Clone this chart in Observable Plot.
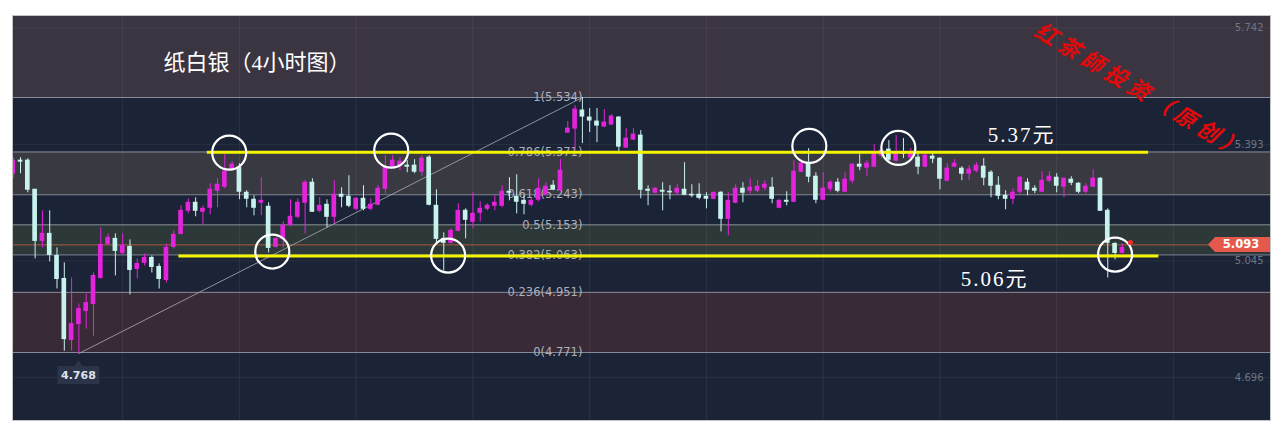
<!DOCTYPE html>
<html><head><meta charset="utf-8">
<script src="https://cdn.jsdelivr.net/npm/d3@7"></script>
<script src="https://cdn.jsdelivr.net/npm/@observablehq/plot@0.6"></script>
<style>
html,body{margin:0;padding:0;background:#ffffff;}
#chart{width:1280px;height:434px;}
</style></head><body><div id="chart"></div>
<script>
// ---- Candles (4-hour bars) ----
const opens = [5.306,5.345,5.345,5.258,5.105,5.126,5.060,4.991,4.808,4.856,4.895,4.916,4.994,5.096,5.111,5.069,5.087,5.021,5.039,5.054,5.027,4.988,5.087,5.126,5.195,5.219,5.192,5.204,5.255,5.267,5.318,5.324,5.249,5.228,5.219,5.207,5.087,5.111,5.153,5.177,5.219,5.279,5.195,5.213,5.177,5.243,5.237,5.201,5.231,5.201,5.213,5.261,5.327,5.330,5.330,5.330,5.312,5.354,5.210,5.111,5.099,5.135,5.195,5.162,5.189,5.201,5.210,5.210,5.252,5.237,5.225,5.213,5.228,5.243,5.270,5.258,5.429,5.441,5.495,5.474,5.462,5.447,5.453,5.474,5.384,5.408,5.420,5.258,5.249,5.255,5.252,5.249,5.258,5.243,5.243,5.237,5.231,5.249,5.171,5.219,5.261,5.255,5.255,5.264,5.264,5.204,5.225,5.222,5.312,5.336,5.297,5.228,5.261,5.279,5.252,5.285,5.333,5.324,5.327,5.360,5.378,5.345,5.369,5.354,5.354,5.327,5.357,5.351,5.285,5.327,5.321,5.306,5.315,5.327,5.309,5.270,5.240,5.231,5.252,5.279,5.261,5.252,5.285,5.294,5.267,5.288,5.276,5.252,5.267,5.291,5.195,5.096,5.069];
const highs = [5.354,5.354,5.351,5.258,5.195,5.195,5.084,5.039,4.994,4.916,4.946,5.009,5.144,5.126,5.126,5.126,5.108,5.051,5.066,5.060,5.036,5.096,5.135,5.210,5.231,5.234,5.210,5.276,5.291,5.363,5.342,5.336,5.255,5.240,5.294,5.219,5.114,5.162,5.228,5.231,5.285,5.291,5.234,5.228,5.285,5.264,5.300,5.234,5.270,5.231,5.270,5.360,5.360,5.354,5.345,5.348,5.360,5.360,5.258,5.129,5.141,5.216,5.201,5.249,5.222,5.216,5.240,5.270,5.294,5.303,5.240,5.231,5.291,5.279,5.285,5.348,5.462,5.510,5.534,5.501,5.501,5.498,5.483,5.477,5.441,5.441,5.435,5.270,5.264,5.279,5.270,5.273,5.339,5.273,5.276,5.249,5.250,5.252,5.249,5.273,5.279,5.291,5.285,5.285,5.294,5.228,5.252,5.345,5.345,5.381,5.309,5.309,5.285,5.291,5.309,5.336,5.363,5.345,5.393,5.381,5.405,5.420,5.411,5.381,5.366,5.369,5.366,5.354,5.336,5.348,5.327,5.330,5.339,5.351,5.315,5.297,5.255,5.261,5.297,5.291,5.270,5.312,5.312,5.306,5.294,5.297,5.279,5.276,5.318,5.294,5.201,5.099,5.096];
const lows = [5.291,5.306,5.249,5.051,5.084,5.042,4.961,4.775,4.775,4.768,4.841,4.820,4.991,5.090,5.000,5.063,4.943,4.991,5.030,5.009,4.961,4.979,5.081,5.123,5.186,5.177,5.153,5.183,5.204,5.261,5.315,5.228,5.204,5.180,5.180,5.069,5.084,5.084,5.147,5.171,5.126,5.190,5.189,5.144,5.156,5.204,5.204,5.195,5.195,5.195,5.210,5.246,5.321,5.315,5.309,5.306,5.297,5.210,5.099,5.015,5.096,5.132,5.111,5.141,5.162,5.195,5.195,5.204,5.225,5.186,5.183,5.207,5.222,5.240,5.255,5.252,5.426,5.375,5.396,5.429,5.399,5.444,5.450,5.369,5.381,5.405,5.231,5.210,5.246,5.195,5.228,5.240,5.240,5.234,5.228,5.201,5.228,5.132,5.120,5.216,5.219,5.246,5.249,5.255,5.216,5.201,5.210,5.219,5.309,5.279,5.216,5.225,5.252,5.249,5.249,5.276,5.315,5.297,5.324,5.351,5.339,5.342,5.351,5.351,5.303,5.324,5.336,5.258,5.282,5.324,5.285,5.285,5.309,5.270,5.234,5.228,5.198,5.213,5.246,5.240,5.246,5.249,5.279,5.249,5.234,5.270,5.246,5.246,5.264,5.193,4.994,5.048,5.066];
const closes = [5.345,5.342,5.258,5.105,5.126,5.063,4.991,4.811,4.856,4.901,4.919,5.000,5.093,5.114,5.075,5.090,5.018,5.036,5.054,5.027,4.991,5.084,5.123,5.195,5.219,5.195,5.201,5.258,5.273,5.312,5.333,5.252,5.231,5.204,5.225,5.084,5.111,5.150,5.177,5.219,5.279,5.192,5.210,5.177,5.243,5.237,5.210,5.231,5.201,5.213,5.261,5.324,5.345,5.342,5.327,5.312,5.351,5.213,5.111,5.099,5.135,5.195,5.168,5.186,5.201,5.210,5.219,5.252,5.249,5.222,5.216,5.225,5.261,5.267,5.258,5.315,5.441,5.498,5.477,5.465,5.450,5.459,5.477,5.387,5.411,5.423,5.258,5.255,5.261,5.252,5.250,5.261,5.243,5.241,5.234,5.231,5.249,5.171,5.225,5.261,5.249,5.264,5.267,5.273,5.231,5.225,5.222,5.312,5.336,5.297,5.228,5.261,5.279,5.255,5.288,5.333,5.327,5.336,5.363,5.375,5.348,5.366,5.366,5.366,5.327,5.360,5.351,5.291,5.321,5.336,5.306,5.318,5.330,5.294,5.270,5.240,5.231,5.249,5.294,5.258,5.255,5.285,5.297,5.270,5.291,5.279,5.252,5.267,5.291,5.195,5.099,5.069,5.084];

// ---- Fibonacci retracement ----
const fibRatios = [1, 0.786, 0.618, 0.5, 0.382, 0.236, 0];
const fibPrices = [5.534, 5.371, 5.243, 5.153, 5.063, 4.951, 4.771];
const bandColors = ["#3b3441", "#1b2336", "#393a41", "#1b2336", "#2d3838", "#1b2336", "#392a38", "#1b2336"];

// swing points the retracement is drawn between (bar number, price)
const swingLow = {bar: 10, price: 4.768};
const swingHigh = {bar: 79, price: 5.534};

// ---- Annotations ----
const levelPrices = [5.37, 5.06];
const levelLabels = ["5.37元", "5.06元"];
const levelFromBar = [27.6, 23.7];
const levelToBar = [156.6, 158];
const levelLabelBar = [139.2, 135.5];

const circleBars = [30.6, 52.8, 36.5, 60.6, 110.1, 122.3, 152.0];
const circlePrices = [5.369, 5.375, 5.073, 5.061, 5.389, 5.383, 5.064];

const axisTicks = [5.742, 5.393, 5.045, 4.696];
const gridBars = [16, 32, 48, 64, 80, 96, 112, 128, 144, 160];
const lastPrice = 5.093;

const title = "纸白银（4小时图）";
const watermark = "红茶師投资（原创）";

// ---- build tables ----
const candles = opens.map((o, k) => ({bar: k + 1, open: o, high: highs[k], low: lows[k], close: closes[k]}));
const yDomain = [4.5675, 5.7794];
const bandEdges = [yDomain[1], ...fibPrices, yDomain[0]];
const bands = bandColors.map((c, k) => ({hi: bandEdges[k], lo: bandEdges[k + 1], color: c}));
const fibs = fibRatios.map((r, k) => ({price: fibPrices[k], label: `${r}(${fibPrices[k].toFixed(3)})`}));
const levels = levelPrices.map((p, k) => ({price: p, label: levelLabels[k], from: levelFromBar[k], to: levelToBar[k], at: levelLabelBar[k]}));
const circles = circleBars.map((b, k) => ({bar: b, price: circlePrices[k]}));

const UP = "#e424dc", DOWN = "#c8f2ee";
const col = d => d.close >= d.open ? UP : DOWN;

const serif = "'Liberation Serif', 'Noto Sans CJK SC', serif";

const plot = Plot.plot({
  width: 1280, height: 434,
  marginLeft: 12, marginRight: 10, marginTop: 15, marginBottom: 14,
  x: {domain: [0.9, 173.3], axis: null},
  y: {domain: yDomain, axis: null},
  color: {type: "identity"},
  style: {background: "transparent", fontFamily: "'DejaVu Sans', sans-serif"},
  marks: [
    Plot.frame({fill: "#1b2336"}),
    Plot.rect(bands, {y1: "lo", y2: "hi", fill: "color"}),
    Plot.ruleX(gridBars, {stroke: "#ffffff", strokeOpacity: 0.07}),
    Plot.ruleY(axisTicks, {stroke: "#ffffff", strokeOpacity: 0.06}),
    Plot.ruleY(fibs, {y: "price", stroke: "#9a9ca8", strokeOpacity: 0.85}),
    Plot.ruleY([lastPrice], {stroke: "#b8603e", strokeOpacity: 0.9}),
    Plot.line([swingLow, swingHigh], {x: "bar", y: "price", stroke: "#a3a5b0", strokeWidth: 1, strokeOpacity: 0.85}),
    Plot.text(fibs, {x: () => swingHigh.bar, y: "price", text: "label", textAnchor: "end", lineAnchor: "middle", fill: "#aeb0ba", fontSize: 11.5}),
    Plot.ruleX(candles, {x: "bar", y1: "low", y2: "high", stroke: col, strokeWidth: 1, clip: true}),
    Plot.rect(candles, {x1: d => d.bar - 0.32, x2: d => d.bar + 0.32, y1: d => Math.min(d.open, d.close), y2: d => Math.max(d.open, d.close), fill: col, insetTop: -0.5, insetBottom: -0.5, clip: true}),
    Plot.ruleY(levels, {y: "price", x1: "from", x2: "to", stroke: "#f4f400", strokeWidth: 3}),
    Plot.dot(circles, {x: "bar", y: "price", r: 17, stroke: "#ffffff", strokeWidth: 2.2, fill: "none"}),
    Plot.text(levels.filter(d => d.price > lastPrice), {x: "at", y: "price", text: "label", dy: -17, fill: "#ffffff", fontSize: 21, fontFamily: serif, lineAnchor: "middle"}),
    Plot.text(levels.filter(d => d.price <= lastPrice), {x: "at", y: "price", text: "label", dy: 23, fill: "#ffffff", fontSize: 21, fontFamily: serif, lineAnchor: "middle"}),
    Plot.dot([{bar: 154.1, price: 5.10}], {x: "bar", y: "price", r: 2.5, fill: "#ff2a2a"}),
    Plot.text(axisTicks, {y: d => d, text: d => d.toFixed(3), frameAnchor: "right", dx: -7, textAnchor: "end", lineAnchor: "middle", fill: "#6e7688", fontSize: 10}),
    Plot.text([title], {frameAnchor: "top-left", dx: 151, dy: 47, textAnchor: "start", lineAnchor: "middle", fill: "#ffffff", fontSize: 22, fontFamily: serif}),
    Plot.text([watermark], {frameAnchor: "top-right", dx: -130, dy: 76, rotate: 31, textAnchor: "middle", lineAnchor: "middle", fill: "#e00a0a", fontSize: 22, fontStyle: "italic", fontWeight: "bold", fontFamily: "'Noto Sans CJK SC', sans-serif"}),
    Plot.frame({stroke: "#c4c4c4"})
  ]
});

// price tags drawn at positions from the plot's own scales
const sx = plot.scale("x"), sy = plot.scale("y");
const svg = d3.select(plot);
svg.selectAll("text").filter(function(){ return this.textContent === watermark; }).attr("letter-spacing", "5px");
svg.selectAll("text").filter(function(){ return levelLabels.includes(this.textContent); }).attr("letter-spacing", "2px");

// swing-low tag
{
  const bx = sx.apply(swingLow.bar), by = sy.apply(swingLow.price);
  const g = svg.append("g");
  g.append("path").attr("d", `M${bx-21},${by+13} L${bx-4},${by+13} L${bx},${by+7} L${bx+4},${by+13} L${bx+21},${by+13} L${bx+21},${by+31} L${bx-21},${by+31} Z`).attr("fill", "#2b3449");
  g.append("text").attr("x", bx).attr("y", by + 22).attr("dy", "0.35em").attr("text-anchor", "middle")
    .attr("fill", "#dfe3ec").attr("font-size", 11).attr("font-weight", "bold").attr("font-family", "'DejaVu Sans', sans-serif").text(swingLow.price.toFixed(3));
}
// last price tag
{
  const ty = sy.apply(lastPrice), right = sx.range ? sx.range[1] : 1270;
  const g = svg.append("g");
  g.append("path").attr("d", `M${right-62},${ty} L${right-55},${ty-7.5} L${right},${ty-7.5} L${right},${ty+7.5} L${right-55},${ty+7.5} Z`).attr("fill", "#e5594c");
  g.append("text").attr("x", right - 29).attr("y", ty).attr("dy", "0.35em").attr("text-anchor", "middle")
    .attr("fill", "#ffffff").attr("font-size", 11.5).attr("font-weight", "bold").attr("font-family", "'DejaVu Sans', sans-serif").text(lastPrice.toFixed(3));
}

document.getElementById("chart").appendChild(plot);
</script>
</body></html>
